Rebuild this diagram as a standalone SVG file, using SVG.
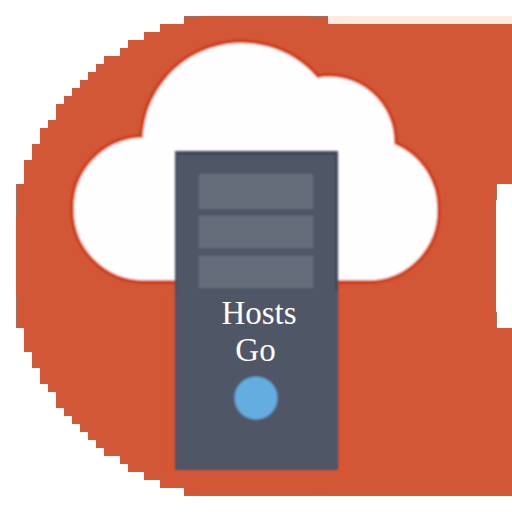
<svg xmlns="http://www.w3.org/2000/svg" width="512" height="512" viewBox="0 0 512 512">
<defs>
<style>
.slot{fill:#666d7a}
text{font-family:"Liberation Serif","Times New Roman",serif;font-size:33px;fill:#fff;text-anchor:middle}
</style>
<filter id="soft" x="-5%" y="-5%" width="110%" height="110%"><feGaussianBlur stdDeviation="0.8"/></filter>
</defs>
<rect width="512" height="512" fill="#fff"/>
<rect x="328" y="16" width="184" height="8" fill="#fdebdd"/>
<path id="badge" fill="#d25737" d="M184 16H328V24H512V184H496V328H512V496H184V488H160V480H144V472H128V464H120V456H104V448H96V440H88V432H80V424H72V416H64V408H56V392H48V384H40V368H32V352H24V328H16V184H24V160H32V144H40V128H48V120H56V104H64V96H72V88H80V80H88V72H96V64H104V56H120V48H128V40H144V32H160V24H184Z"/>
<path fill="#e0532e" d="M168 290H178V470H338V290H346V474H168Z" opacity="0.6" filter="url(#soft)"/>
<path fill="#a3705a" d="M184 16h16v1.500h-16zM310 16h18v1.500h-18zM16 184h1v32h-1zM496 184h1v16h-1zM16 296h1v32h-1zM496 312h1v16h-1zM184 495h16v1h-16zM312 495h16v1h-16z"/>
<g id="cloud" filter="url(#soft)">
<path fill="#fefefe" stroke="#d23a12" stroke-width="3.500" d="M141 136A101 101 0 0 1 318 76A67 67 0 0 1 396 143A71 71 0 0 1 439 210A71 71 0 0 1 373 282H143A72 72 0 0 1 72 210A72 72 0 0 1 141 136Z"/>
</g>
<g id="server">
<g filter="url(#soft)">
<rect x="175" y="151" width="163" height="319" fill="#4f5666"/>
<rect x="175" y="151" width="163" height="4" fill="#3f4659"/>
<rect x="175" y="151" width="3" height="140" fill="#4a5063"/>
<rect x="335" y="151" width="3" height="140" fill="#3f4659"/>
<rect x="175" y="291" width="3" height="179" fill="#4a5568"/>
<rect x="335" y="291" width="3" height="179" fill="#475670"/>
<rect class="slot" x="199" y="174" width="114" height="35"/>
<rect class="slot" x="199" y="216" width="114" height="32"/>
<rect class="slot" x="199" y="256" width="114" height="32"/>
<circle cx="256" cy="398" r="21.500" fill="#63ade0"/>
</g>
<text x="259" y="324">Hosts</text>
<text x="255.500" y="361">Go</text>
</g>
</svg>
